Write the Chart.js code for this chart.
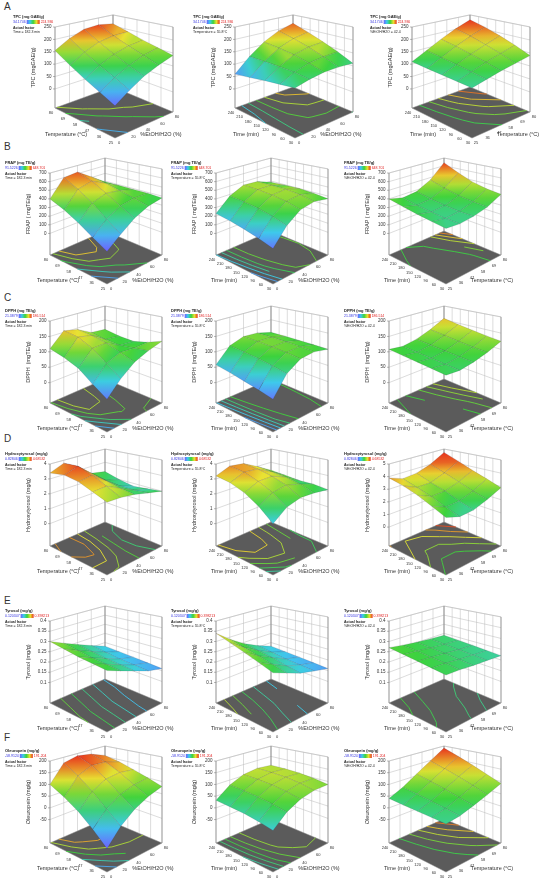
<!DOCTYPE html>
<html>
<head>
<meta charset="utf-8">
<script src="https://cdn.jsdelivr.net/npm/chart.js@4.4.1/dist/chart.umd.min.js"></script>
<style>
  body { margin: 0; width: 550px; height: 880px; overflow: hidden; background: #fff; position: relative;
         font-family: "Liberation Sans", Arial, sans-serif; }
  canvas { position: absolute; }
  .row-label { position: absolute; left: 4px; font-size: 10px; color: #333; }
</style>
</head>
<body>
<div class="row-label" style="top:1px">A</div>
<div class="row-label" style="top:141px">B</div>
<div class="row-label" style="top:292px">C</div>
<div class="row-label" style="top:433px">D</div>
<div class="row-label" style="top:595px">E</div>
<div class="row-label" style="top:732px">F</div>

<script>
// factor levels of the read grid (5 x 5) and axis ticks
const tempGrid = [25, 38.75, 52.5, 66.25, 80];
const timeGrid = [30, 82.5, 135, 187.5, 240];
const etohGrid = [0, 20, 40, 60, 80];
const tempTicks = [25, 36, 47, 58, 69, 80];
const timeTicks = [30, 60, 90, 120, 150, 180, 210, 240];
const etohTicks = [0, 20, 40, 60, 80];

// response z ticks
const tpcTicks = [0, 50, 100, 150, 200, 250];
const frapTicks = [0, 100, 200, 300, 400, 500, 600, 700];
const dpphTicks = [0, 50, 100, 150, 200];
const htTicks = [0, 1, 2, 3, 4];
const ht5Ticks = [0, 1, 2, 3, 4, 5];
const tyTicks = [0.1, 0.15, 0.2, 0.25, 0.3, 0.35, 0.4];
const oleTicks = [-50, 0, 50, 100, 150, 200];

// rows = first factor (min -> max), columns = second factor (min -> max)
const tpcTempEtoh = [
  [40, 75, 105, 125, 140],
  [65, 100, 125, 145, 155],
  [90, 125, 150, 165, 170],
  [120, 155, 180, 190, 190],
  [155, 190, 215, 220, 210]
];
const tpcTimeEtoh = [
  [105, 115, 120, 118, 110],
  [95, 120, 135, 140, 138],
  [85, 120, 148, 160, 163],
  [72, 118, 155, 178, 188],
  [60, 115, 160, 193, 212]
];
const tpcTimeTemp = [
  [105, 115, 125, 132, 140],
  [106, 122, 138, 152, 165],
  [107, 128, 150, 170, 188],
  [108, 134, 162, 188, 210],
  [110, 140, 172, 202, 228]
];
const frapTempEtoh = [
  [90, 200, 300, 360, 380],
  [170, 300, 380, 400, 390],
  [260, 420, 470, 440, 390],
  [340, 520, 560, 480, 390],
  [400, 600, 620, 510, 390]
];
const frapTimeEtoh = [
  [120, 290, 390, 410, 370],
  [160, 330, 430, 440, 390],
  [190, 360, 450, 455, 400],
  [215, 375, 460, 455, 395],
  [230, 380, 460, 450, 385]
];
const frapTimeTemp = [
  [330, 310, 320, 350, 420],
  [340, 310, 320, 360, 440],
  [355, 320, 330, 380, 480],
  [375, 335, 350, 420, 550],
  [400, 360, 380, 470, 640]
];
const dpphTempEtoh = [
  [30, 70, 100, 115, 125],
  [55, 100, 115, 110, 110],
  [85, 130, 130, 105, 100],
  [100, 150, 140, 110, 105],
  [110, 155, 145, 120, 115]
];
const dpphTimeEtoh = [
  [30, 85, 110, 112, 100],
  [38, 92, 115, 115, 102],
  [45, 98, 118, 117, 103],
  [52, 102, 120, 118, 104],
  [58, 105, 121, 118, 104]
];
const dpphTimeTemp = [
  [100, 95, 100, 110, 125],
  [102, 97, 102, 113, 130],
  [104, 99, 105, 118, 137],
  [106, 101, 108, 124, 145],
  [108, 103, 112, 130, 155]
];
const htTempEtoh = [
  [2.9, 2.8, 2.6, 2.3, 2.0],
  [3.2, 3.2, 2.7, 2.2, 1.9],
  [3.5, 3.6, 2.9, 2.2, 1.8],
  [3.6, 3.9, 3.1, 2.3, 2.0],
  [3.4, 3.8, 3.2, 2.5, 2.3]
];
const htTimeEtoh = [
  [1.6, 2.2, 2.4, 2.3, 2.1],
  [2.3, 2.8, 2.9, 2.6, 2.2],
  [2.8, 3.2, 3.2, 2.8, 2.2],
  [3.1, 3.5, 3.4, 2.9, 2.3],
  [3.2, 3.6, 3.5, 3.0, 2.4]
];
const htTimeTemp = [
  [2.6, 2.2, 2.2, 2.5, 2.9],
  [3.0, 2.5, 2.5, 2.8, 3.3],
  [3.4, 2.9, 2.9, 3.2, 3.7],
  [3.7, 3.2, 3.2, 3.6, 4.2],
  [3.9, 3.5, 3.6, 4.0, 4.7]
];
const tyTempEtoh = [
  [0.27, 0.24, 0.21, 0.18, 0.16],
  [0.275, 0.245, 0.215, 0.185, 0.165],
  [0.28, 0.25, 0.22, 0.19, 0.17],
  [0.29, 0.26, 0.23, 0.20, 0.175],
  [0.30, 0.27, 0.24, 0.21, 0.18]
];
const tyTimeEtoh = [
  [0.26, 0.23, 0.20, 0.18, 0.16],
  [0.28, 0.245, 0.21, 0.185, 0.165],
  [0.30, 0.26, 0.225, 0.19, 0.17],
  [0.32, 0.275, 0.235, 0.20, 0.175],
  [0.34, 0.29, 0.245, 0.21, 0.18]
];
const tyTimeTemp = [
  [0.25, 0.245, 0.235, 0.228, 0.22],
  [0.255, 0.25, 0.24, 0.232, 0.225],
  [0.26, 0.253, 0.245, 0.236, 0.23],
  [0.265, 0.257, 0.248, 0.24, 0.235],
  [0.27, 0.26, 0.252, 0.245, 0.24]
];
const oleTempEtoh = [
  [-60, 0, 40, 65, 80],
  [-10, 45, 80, 95, 100],
  [35, 95, 125, 130, 120],
  [70, 140, 165, 160, 140],
  [100, 175, 190, 180, 155]
];
const oleTimeEtoh = [
  [10, 55, 80, 90, 88],
  [20, 65, 92, 102, 98],
  [27, 72, 100, 110, 105],
  [30, 76, 104, 113, 108],
  [32, 78, 105, 114, 108]
];
const oleTimeTemp = [
  [35, 40, 55, 72, 92],
  [36, 48, 68, 92, 115],
  [37, 55, 82, 112, 140],
  [38, 62, 95, 130, 165],
  [40, 68, 107, 148, 190]
];

const factors = {
  temp: { name: 'Temperature (°C)', grid: tempGrid, ticks: tempTicks },
  time: { name: 'Time (min)', grid: timeGrid, ticks: timeTicks },
  etoh: { name: '%EtOH/H2O (%)', grid: etohGrid, ticks: etohTicks }
};

const responses = {
  tpc:  { title: 'TPC (mg GAE/g)', axis: 'TPC (mgGAE/g)', ticks: tpcTicks, floor: -77, top: 250, lo: 34.17, hi: 224.94, loTxt: '34.1746', hiTxt: '224.936' },
  frap: { title: 'FRAP (mg TE/g)', axis: 'FRAP ( mgTE/g)', ticks: frapTicks, floor: -250, top: 700, lo: 90, hi: 650, loTxt: '91.5226', hiTxt: '648.701' },
  dpph: { title: 'DPPH (mg TE/g)', axis: 'DPPH  (mgTE/g)', ticks: dpphTicks, floor: -66, top: 200, lo: 20, hi: 190, loTxt: '21.3879', hiTxt: '186.514' },
  ht:   { title: 'Hydroxytyrosol (mg/g)', axis: 'Hydroxytyrosol (mg/g)', ticks: htTicks, floor: -1.5, top: 4, lo: 0.8, hi: 4.0, loTxt: '0.82846', hiTxt: '4.68532' },
  ht5:  { title: 'Hydroxytyrosol (mg/g)', axis: 'Hydroxytyrosol (mg/g)', ticks: ht5Ticks, floor: -1.5, top: 5, lo: 0.8, hi: 4.4, loTxt: '0.82846', hiTxt: '4.68532' },
  ty:   { title: 'Tyrosol (mg/g)', axis: 'Tyrosol (mg/g)', ticks: tyTicks, floor: 0, top: 0.4, lo: 0.12, hi: 0.40, loTxt: '0.120347', hiTxt: '0.398213' },
  ole:  { title: 'Oleuropein (mg/g)', axis: 'Oleuropein (mg/g)', ticks: oleTicks, floor: -150, top: 200, lo: -60, hi: 190, loTxt: '-58.9124', hiTxt: '191.204' }
};

const fixedText = ['Time = 182.3 min', 'Temperature = 55.8°C', '%EtOH/H2O = 42.4'];
const pairs = [['temp', 'etoh'], ['time', 'etoh'], ['time', 'temp']];

const panels = [
  ['tpc', [tpcTempEtoh, tpcTimeEtoh, tpcTimeTemp]],
  ['frap', [frapTempEtoh, frapTimeEtoh, frapTimeTemp]],
  ['dpph', [dpphTempEtoh, dpphTimeEtoh, dpphTimeTemp]],
  ['ht', [htTempEtoh, htTimeEtoh, htTimeTemp]],
  ['ty', [tyTempEtoh, tyTimeEtoh, tyTimeTemp]],
  ['ole', [oleTempEtoh, oleTimeEtoh, oleTimeTemp]]
];

// layout (h = box height at the z-axis corner; depth shrinks heights toward the back)
const W = 190, H = 152;
const geoA = { bx: 112, by: 138, lx: -60, ly: -30, rx: 58, ry: -26, h: 81 };
const geoB = { bx: 112, by: 138, lx: -57, ly: -29, rx: 55, ry: -29, h: 82 };
const rowTop = [0, 146, 294, 437, 594, 734];
const colLeftA = [3, 183, 360];
const colLeft = [-5, 161, 334];
const FONT = '"Liberation Sans", Arial, sans-serif';

const stops = [
  [0, [110, 96, 255]],
  [0.25, [60, 205, 235]],
  [0.5, [60, 210, 60]],
  [0.75, [232, 226, 50]],
  [1, [232, 52, 30]]
];
function jet(t) {
  t = Math.max(0, Math.min(1, t));
  for (let k = 1; k < stops.length; k++) {
    if (t <= stops[k][0]) {
      const a = stops[k - 1], b = stops[k];
      const f = (t - a[0]) / (b[0] - a[0]);
      const c = a[1].map((x, i) => Math.round(x + (b[1][i] - x) * f));
      return 'rgb(' + c.join(',') + ')';
    }
  }
  return 'rgb(232,52,30)';
}

function surfacePlugin(geo, resp, fu, fv, z, fixed) {
  return {
    id: 'surface3d',
    afterDraw(chart) {
      const ctx = chart.ctx, sx = chart.scales.x, sy = chart.scales.y;
      const span = resp.top - resp.floor;
      const P = (u, v, w) => {
        const depth = 1.11 - 0.11 * u - 0.06 * v - 0.05 * u * v;
        return [
          sx.getPixelForValue(geo.bx + u * geo.lx + v * geo.rx),
          sy.getPixelForValue(geo.by + u * geo.ly + v * geo.ry + 5 * u * v - w * geo.h * depth)
        ];
      };
      const uMin = fu.ticks[0], uMax = fu.ticks[fu.ticks.length - 1];
      const vMin = fv.ticks[0], vMax = fv.ticks[fv.ticks.length - 1];
      const nu = t => (t - uMin) / (uMax - uMin);
      const nv = t => (t - vMin) / (vMax - vMin);
      const nw = val => (val - resp.floor) / span;
      const col = val => jet((val - resp.lo) / (resp.hi - resp.lo));
      const seg = (a, b) => { ctx.beginPath(); ctx.moveTo(a[0], a[1]); ctx.lineTo(b[0], b[1]); ctx.stroke(); };
      const poly = pts => { ctx.beginPath(); pts.forEach((p, i) => i ? ctx.lineTo(p[0], p[1]) : ctx.moveTo(p[0], p[1])); ctx.closePath(); };

      ctx.save();
      // back walls
      ctx.strokeStyle = '#b8b8b8';
      ctx.lineWidth = 0.5;
      fv.ticks.forEach(t => seg(P(1, nv(t), 0), P(1, nv(t), 1)));
      fu.ticks.forEach(t => seg(P(nu(t), 1, 0), P(nu(t), 1, 1)));
      resp.ticks.concat([resp.top]).forEach(val => {
        const w = nw(val);
        seg(P(1, 0, w), P(1, 1, w));
        seg(P(1, 1, w), P(0, 1, w));
      });
      ctx.strokeStyle = '#707070';
      ctx.lineWidth = 0.6;
      seg(P(1, 0, 0), P(1, 0, 1));
      seg(P(0, 1, 0), P(0, 1, 1));
      seg(P(1, 1, 0), P(1, 1, 1));

      // floor
      poly([P(0, 0, 0), P(1, 0, 0), P(1, 1, 0), P(0, 1, 0)]);
      ctx.fillStyle = '#5b5b5b';
      ctx.fill();
      ctx.strokeStyle = '#8a8a8a';
      ctx.lineWidth = 0.5;
      ctx.stroke();

      // contour lines on the floor (marching squares on the read grid)
      let zLo = Infinity, zHi = -Infinity;
      z.forEach(r => r.forEach(val => { zLo = Math.min(zLo, val); zHi = Math.max(zHi, val); }));
      const gu = fu.grid.map(nu), gv = fv.grid.map(nv);
      ctx.lineWidth = 0.9;
      for (let k = 1; k <= 5; k++) {
        const c = zLo + (zHi - zLo) * k / 6;
        ctx.strokeStyle = col(c);
        for (let i = 0; i < 4; i++) {
          for (let j = 0; j < 4; j++) {
            const corners = [[i, j], [i + 1, j], [i + 1, j + 1], [i, j + 1]];
            const hits = [];
            for (let e = 0; e < 4; e++) {
              const a = corners[e], b = corners[(e + 1) % 4];
              const za = z[a[0]][a[1]], zb = z[b[0]][b[1]];
              if ((za - c) * (zb - c) < 0) {
                const f = (c - za) / (zb - za);
                const u = gu[a[0]] + (gu[b[0]] - gu[a[0]]) * f;
                const v = gv[a[1]] + (gv[b[1]] - gv[a[1]]) * f;
                hits.push(P(u, v, 0));
              }
            }
            if (hits.length >= 2) seg(hits[0], hits[1]);
            if (hits.length === 4) seg(hits[2], hits[3]);
          }
        }
      }

      // surface, far cells first
      const cells = [];
      for (let i = 0; i < 4; i++) for (let j = 0; j < 4; j++) cells.push([i, j]);
      cells.sort((a, b) => (b[0] + b[1]) - (a[0] + a[1]));
      cells.forEach(([i, j]) => {
        const idx = [[i, j], [i + 1, j], [i + 1, j + 1], [i, j + 1]];
        const pts = idx.map(([a, b]) => P(gu[a], gv[b], nw(z[a][b])));
        const vals = idx.map(([a, b]) => z[a][b]);
        let mi = 0, ma = 0;
        vals.forEach((val, k) => { if (val < vals[mi]) mi = k; if (val > vals[ma]) ma = k; });
        let fill = col(vals[0]);
        if (mi !== ma) {
          fill = ctx.createLinearGradient(pts[mi][0], pts[mi][1], pts[ma][0], pts[ma][1]);
          fill.addColorStop(0, col(vals[mi]));
          fill.addColorStop(0.5, col((vals[mi] + vals[ma]) / 2));
          fill.addColorStop(1, col(vals[ma]));
        }
        poly(pts);
        ctx.fillStyle = fill;
        ctx.fill();
        ctx.strokeStyle = 'rgba(40,40,60,0.35)';
        ctx.lineWidth = 0.4;
        ctx.stroke();
      });

      // z axis ticks and labels
      ctx.fillStyle = '#333';
      ctx.strokeStyle = '#707070';
      ctx.lineWidth = 0.5;
      ctx.font = '4.5px ' + FONT;
      ctx.textAlign = 'right';
      ctx.textBaseline = 'middle';
      resp.ticks.forEach(val => {
        const p = P(1, 0, nw(val));
        seg([p[0] - 2, p[1]], p);
        ctx.fillText(String(val), p[0] - 3.5, p[1]);
      });
      const zMid = P(1, 0, 0.5);
      ctx.save();
      ctx.translate(zMid[0] - 22, zMid[1]);
      ctx.rotate(-Math.PI / 2);
      ctx.textAlign = 'center';
      ctx.font = '5.5px ' + FONT;
      ctx.fillText(resp.axis, 0, 0);
      ctx.restore();

      // factor ticks along the front edges
      ctx.textAlign = 'center';
      ctx.font = '4px ' + FONT;
      fu.ticks.forEach(t => {
        const p = P(nu(t), 0, 0);
        ctx.fillText(String(t), p[0] - 4, p[1] + 5);
      });
      fv.ticks.forEach(t => {
        const p = P(0, nv(t), 0);
        ctx.fillText(String(t), p[0] + 4, p[1] + 5);
      });
      ctx.font = '5.5px ' + FONT;
      const b0 = P(0, 0, 0);
      ctx.fillText(fu.name, b0[0] - 49, b0[1] - 4);
      ctx.fillText(fv.name, b0[0] + 46, b0[1] - 4);

      // legend block
      const lx = sx.getPixelForValue(geo.bx - 102);
      const ly = sy.getPixelForValue(geo.by + geo.ly - geo.h - 10);
      ctx.textAlign = 'left';
      ctx.fillStyle = '#222';
      ctx.font = 'bold 4px ' + FONT;
      ctx.fillText(resp.title, lx, ly);
      ctx.font = '3.5px ' + FONT;
      ctx.fillStyle = '#3030e0';
      ctx.fillText(resp.loTxt, lx, ly + 5);
      const bx = lx + ctx.measureText(resp.loTxt).width + 1;
      const bar = ctx.createLinearGradient(bx, 0, bx + 13, 0);
      stops.forEach(s => bar.addColorStop(s[0], jet(s[0])));
      ctx.fillStyle = bar;
      ctx.fillRect(bx, ly + 3, 13, 4);
      ctx.fillStyle = '#e02020';
      ctx.fillText(resp.hiTxt, bx + 14, ly + 5);
      ctx.fillStyle = '#222';
      ctx.font = 'bold 3.5px ' + FONT;
      ctx.fillText('Actual factor', lx, ly + 11.5);
      ctx.font = '3.5px ' + FONT;
      ctx.fillText(fixed, lx, ly + 15.5);
      ctx.restore();
    }
  };
}

panels.forEach(([key, grids], row) => {
  grids.forEach((z, c) => {
    const respKey = (key === 'ht' && c === 2) ? 'ht5' : key;
    const resp = responses[respKey];
    const fu = factors[pairs[c][0]], fv = factors[pairs[c][1]];
    const geo = row === 0 ? geoA : geoB;
    const cv = document.createElement('canvas');
    cv.width = W;
    cv.height = H;
    cv.style.left = (row === 0 ? colLeftA[c] : colLeft[c]) + 'px';
    cv.style.top = rowTop[row] + 'px';
    cv.style.width = W + 'px';
    cv.style.height = H + 'px';
    document.body.appendChild(cv);

    new Chart(cv, {
      type: 'scatter',
      data: {
        datasets: [{
          label: resp.title,
          data: [{ x: geo.bx, y: geo.by }],
          pointRadius: 0
        }]
      },
      options: {
        responsive: false,
        animation: false,
        events: [],
        layout: { padding: 0 },
        plugins: { legend: { display: false }, tooltip: { enabled: false } },
        scales: {
          x: { type: 'linear', min: 0, max: W, display: false },
          y: { type: 'linear', min: 0, max: H, reverse: true, display: false }
        }
      },
      plugins: [surfacePlugin(geo, resp, fu, fv, z, fixedText[c])]
    });
  });
});
</script>
</body>
</html>
